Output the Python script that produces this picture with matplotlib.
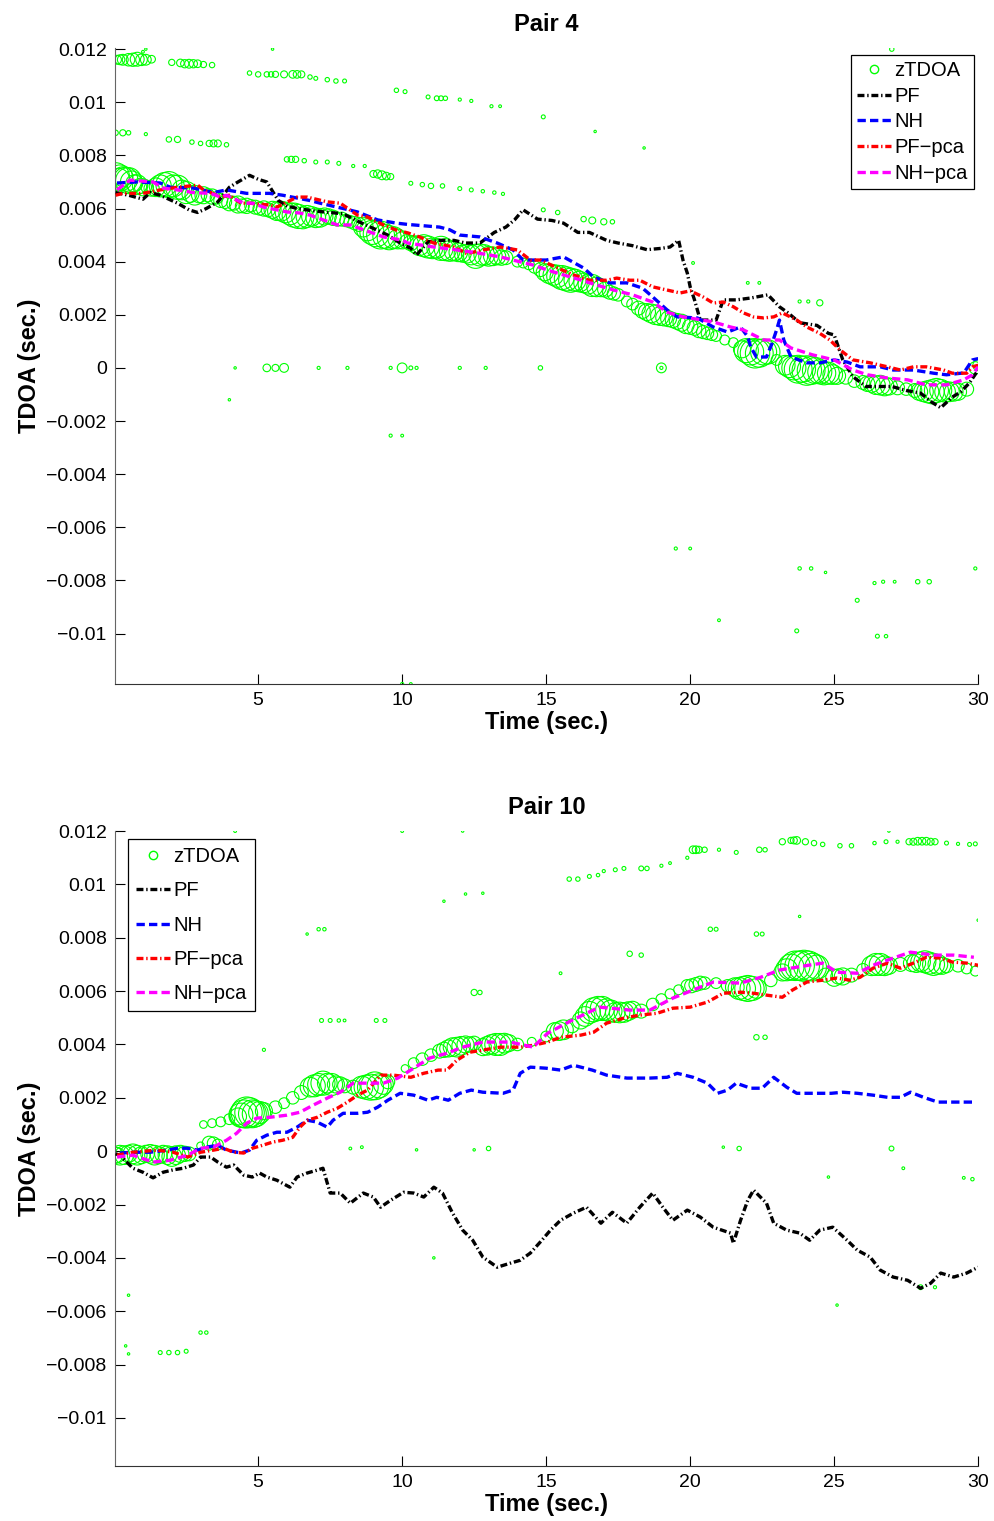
import numpy as np
import matplotlib
matplotlib.use("Agg")
import matplotlib.pyplot as plt
from matplotlib.lines import Line2D

plt.rcParams['font.family'] = ['Liberation Sans', 'DejaVu Sans']
plt.rcParams['lines.scale_dashes'] = False

# all TDOA values in milliseconds (x 1e-3 sec), time in sec

# ---------------- Pair 4 ----------------
p4_pf = [(0.05,6.6),(0.5,6.5),(1.0,6.35),(1.25,6.6),(1.6,6.5),(2.2,6.2),(2.6,5.95),(2.9,5.85),(3.2,6.0),
         (3.6,6.25),(4.0,6.8),(4.3,7.0),(4.7,7.25),(5.0,7.1),(5.3,7.0),(5.7,6.3),(6.0,6.1),(6.35,6.0),
         (7.0,5.9),(7.5,5.85),(7.95,5.8),(8.5,5.5),(8.9,5.3),(9.5,5.0),(9.93,4.7),(10.3,4.5),(10.5,4.25),
         (10.9,4.75),(11.3,4.8),(11.8,4.8),(12.2,4.7),(12.7,4.7),(13.2,5.1),(13.6,5.3),(13.9,5.57),
         (14.2,5.95),(14.7,5.6),(15.2,5.55),(15.6,5.45),(16.1,5.1),(16.5,5.1),(17.1,4.8),(17.5,4.7),
         (18.0,4.6),(18.5,4.45),(19.0,4.5),(19.3,4.55),(19.6,4.8),(19.75,4.06),(19.9,3.57),(20.0,3.05),
         (20.15,2.56),(20.35,1.8),(20.9,1.8),(21.15,2.56),(21.6,2.56),(22.1,2.63),(22.7,2.75),(23.1,2.3),
         (23.4,2.07),(23.8,1.7),(24.4,1.6),(24.8,1.3),(25.0,1.24),(25.3,0.3),(25.65,-0.33),(26.1,-0.7),
         (26.6,-0.7),(27.0,-0.7),(27.5,-0.85),(28.0,-0.95),(28.4,-1.3),(28.7,-1.5),(29.1,-1.1),
         (29.4,-0.9),(29.7,-0.56),(30.0,-0.08)]

p4_nh = [(0.1,6.96),(0.8,7.0),(1.6,6.96),(1.95,6.8),(2.75,6.77),(3.45,6.6),(3.9,6.7),(4.6,6.57),(5.4,6.57),
         (5.85,6.5),(6.8,6.3),(7.15,6.2),(7.95,6.0),(8.45,5.87),(9.15,5.57),(9.8,5.45),(10.2,5.4),(11.3,5.3),
         (11.65,5.2),(12.0,5.0),(12.7,4.93),(13.3,4.7),(13.85,4.44),(14.2,4.06),(15.0,4.06),(15.6,4.18),
         (16.3,3.76),(16.65,3.42),(17.2,3.2),(17.8,3.2),(18.35,3.0),(18.7,2.67),(19.2,2.18),(19.55,1.92),
         (20.25,1.88),(20.8,1.54),(21.3,1.35),(21.75,1.54),(22.0,1.17),(22.1,0.79),(22.3,0.41),(22.65,0.41),
         (22.85,0.94),(23.0,1.43),(23.1,1.8),(23.25,1.05),(23.5,0.41),(24.05,0.19),(24.5,0.19),(25.0,0.3),
         (25.45,0.22),(25.9,0.04),(26.6,0.04),(27.05,-0.08),(27.75,-0.08),(28.45,-0.2),(28.9,-0.26),
         (29.5,-0.19),(29.8,0.3),(30.0,0.35)]

p4_pfpca = [(0.05,6.5),(0.3,6.57),(1.0,6.57),(1.6,6.7),(2.2,6.8),(2.9,6.88),(3.1,6.7),(3.35,6.6),(3.7,6.43),
            (4.0,6.5),(4.4,6.2),(4.7,6.2),(5.4,6.13),(5.65,6.05),(6.35,6.43),(6.7,6.43),(7.4,6.25),(7.85,6.2),
            (8.45,5.75),(8.8,5.68),(9.35,5.38),(9.8,5.19),(10.2,5.08),(10.6,4.93),(11.1,4.7),(11.8,4.55),
            (12.25,4.3),(12.8,4.44),(13.4,4.55),(14.0,4.44),(14.45,4.06),(14.8,4.06),(15.4,3.76),(15.95,3.5),
            (16.5,3.3),(17.1,3.3),(17.45,3.38),(17.9,3.3),(18.25,3.3),(18.7,3.05),(19.2,2.93),(19.65,2.82),
            (20.0,2.9),(20.45,2.67),(20.8,2.44),(21.15,2.48),(21.5,2.3),(21.85,2.07),(22.2,1.92),(22.55,1.88),
            (22.9,1.92),(23.2,2.07),(23.7,1.8),(24.05,1.54),(24.5,1.3),(24.85,1.05),(25.2,0.68),(25.65,0.3),
            (26.25,0.19),(26.85,0.04),(27.3,-0.08),(27.75,0.04),(28.2,0.04),(28.8,-0.08),(29.1,-0.2),
            (29.6,-0.2),(29.8,0.04),(30.0,0.1)]

p4_nhpca = [(0.1,6.7),(0.55,7.07),(1.35,7.0),(1.7,6.77),(2.2,6.7),(2.75,6.6),(3.35,6.57),(3.7,6.43),(3.9,6.5),
            (4.5,6.2),(4.8,6.2),(5.2,6.05),(6.0,5.87),(6.45,5.83),(6.8,5.75),(7.75,5.38),(8.2,5.38),(9.35,4.93),
            (10.0,4.81),(10.2,4.7),(11.1,4.55),(11.9,4.44),(12.6,4.33),(13.4,4.18),(14.55,3.87),(15.05,3.68),
            (15.6,3.5),(16.2,3.31),(16.75,3.12),(17.35,2.93),(18.0,2.75),(18.7,2.48),(19.2,2.1),(19.75,1.92),
            (20.8,1.73),(21.4,1.54),(21.85,1.43),(22.55,1.05),(23.1,1.05),(23.5,0.75),(24.25,0.49),(25.0,0.3),
            (25.65,-0.08),(26.15,-0.26),(26.85,-0.38),(27.55,-0.45),(28.2,-0.64),(28.9,-0.64),(29.5,-0.45),
            (29.8,-0.26),(30.0,0.04)]

# zTDOA candidates: (time, tdoa, marker size)
p4_ztdoa = [
    # main track
    (0.05,7.2,400),(0.2,7.15,350),(0.4,7.1,300),(0.6,7.0,250),(0.8,6.9,200),(1.0,6.8,150),(1.3,6.75,120),
    (1.6,6.85,250),(1.9,6.9,350),(2.2,6.8,300),(2.5,6.6,250),(2.8,6.5,200),(3.1,6.5,150),(3.4,6.45,120),
    (3.7,6.3,100),(4.0,6.2,120),(4.3,6.15,150),(4.6,6.1,120),(4.9,6.05,100),(5.2,6.0,120),(5.5,5.95,150),
    (5.8,5.9,200),(6.1,5.8,250),(6.4,5.7,300),(6.7,5.7,250),(7.0,5.65,200),(7.3,5.7,150),(7.6,5.65,120),
    (7.9,5.6,100),(8.2,5.5,80),(8.5,5.4,100),(8.8,5.2,250),(9.1,5.05,350),(9.4,4.95,300),(9.7,4.9,250),
    (10.0,4.8,150),(10.3,4.7,120),(10.6,4.6,200),(10.9,4.55,250),(11.2,4.5,200),(11.5,4.45,250),
    (11.8,4.4,200),(12.1,4.3,150),(12.4,4.25,200),(12.7,4.25,250),(13.0,4.2,200),(13.3,4.2,150),
    (13.6,4.15,100),(14.0,4.0,60),(14.4,3.9,60),(14.8,3.7,100),(15.1,3.55,200),(15.4,3.45,250),
    (15.7,3.35,300),(16.0,3.3,250),(16.3,3.2,200),(16.6,3.1,250),(16.9,3.0,150),(17.2,2.85,100),
    (17.5,2.75,80),(17.8,2.5,60),(18.2,2.25,100),(18.5,2.1,150),(18.8,2.0,200),(19.1,1.9,150),
    (19.4,1.8,120),(19.7,1.7,150),(20.0,1.55,120),(20.3,1.4,100),(20.6,1.3,80),(20.9,1.2,60),
    (21.2,1.05,50),(21.5,0.95,50),(21.8,0.7,150),(22.1,0.6,350),(22.4,0.55,400),(22.7,0.6,300),
    (23.0,0.3,60),(23.3,0.1,200),(23.6,0.0,300),(23.9,-0.05,350),(24.2,-0.1,400),(24.5,-0.15,300),
    (24.8,-0.2,250),(25.1,-0.3,150),(25.4,-0.35,100),(25.7,-0.5,80),(26.0,-0.55,100),(26.3,-0.6,150),
    (26.6,-0.65,200),(26.9,-0.7,150),(27.2,-0.75,100),(27.5,-0.8,80),(27.8,-0.85,100),(28.1,-0.9,200),
    (28.4,-0.9,300),(28.7,-0.85,250),(29.0,-0.9,200),(29.3,-0.9,150),(29.6,-0.8,100),(29.9,0.0,80),
    (30.0,0.1,60),
    # main track, overlapping rings
    (0.15,7.1,250),(0.3,7.2,200),(0.5,7.05,350),(0.7,6.95,150),(0.9,6.85,120),(1.15,6.8,80),(1.45,6.8,180),
    (1.75,6.9,300),(2.05,6.85,250),(2.35,6.7,200),(2.65,6.55,150),(2.95,6.5,120),(3.25,6.5,90),(3.55,6.4,80),
    (3.85,6.25,90),(4.15,6.2,100),(4.45,6.1,100),(4.75,6.1,80),(5.05,6.0,90),(5.35,5.95,100),(5.65,5.9,180),
    (5.95,5.85,220),(6.25,5.75,300),(6.55,5.65,250),(6.85,5.7,200),(7.15,5.65,180),(7.45,5.7,120),
    (7.75,5.6,100),(8.05,5.55,80),(8.35,5.45,90),(8.65,5.3,200),(8.95,5.1,300),(9.25,5.0,400),(9.55,4.9,300),
    (9.85,4.85,200),(10.15,4.75,100),(10.45,4.65,150),(10.75,4.6,250),(11.05,4.5,220),(11.35,4.5,300),
    (11.65,4.4,220),(11.95,4.35,180),(12.25,4.3,180),(12.55,4.2,300),(12.85,4.25,220),(13.15,4.2,180),
    (13.45,4.15,120),(14.2,3.95,50),(14.6,3.8,80),(14.95,3.6,150),(15.25,3.5,220),(15.55,3.4,300),
    (15.85,3.3,300),(16.15,3.25,220),(16.45,3.15,200),(16.75,3.05,200),(17.05,2.95,120),(17.35,2.8,90),
    (18.0,2.4,70),(18.35,2.15,120),(18.65,2.05,180),(18.95,1.95,180),(19.25,1.85,130),(19.55,1.75,130),
    (19.85,1.6,140),(20.15,1.5,110),(20.45,1.35,90),(20.75,1.25,70),(21.95,0.65,300),(22.25,0.55,450),
    (22.55,0.6,350),(23.45,0.05,250),(23.75,-0.05,400),(24.05,-0.1,450),(24.35,-0.1,350),(24.65,-0.2,280),
    (24.95,-0.25,200),(26.15,-0.6,120),(26.45,-0.65,180),(26.75,-0.7,180),(27.95,-0.9,150),(28.25,-0.9,250),
    (28.55,-0.85,300),(28.85,-0.9,220),(29.15,-0.9,180),
    # upper branch ~0.0116
    (0.1,11.6,40),(0.3,11.6,60),(0.5,11.6,80),(0.8,11.62,100),(1.1,11.6,60),(1.3,11.62,30),(2.0,11.5,20),
    (2.3,11.48,30),(2.6,11.45,40),(2.9,11.45,30),(3.1,11.42,20),(3.4,11.4,15),(4.7,11.1,10),(5.0,11.05,15),
    (5.3,11.05,15),(5.6,11.05,20),(6.2,11.05,30),(6.5,11.05,25),(6.8,10.95,10),(7.0,10.9,8),(7.4,10.85,10),
    (7.7,10.8,10),(8.0,10.8,8),(9.8,10.45,10),(10.1,10.4,8),(10.9,10.2,8),(11.2,10.15,12),(11.5,10.15,10),
    (12.0,10.1,5),(12.4,10.05,5),(13.1,9.85,5),(13.4,9.85,4),(14.9,9.45,8),
    (0.2,11.6,50),(0.65,11.6,90),(0.95,11.6,70),(2.45,11.45,35),(2.75,11.45,35),(5.45,11.05,15),
    (5.9,11.05,25),(6.35,11.05,30),(11.35,10.15,12),
    (1.0,11.9,4),(5.5,12.0,3),(1.1,12.0,3),(16.7,8.9,3),(18.4,8.28,3),(27.0,12.0,10),
    # upper branch ~0.0088
    (0.05,8.85,15),(0.3,8.85,20),(0.5,8.85,10),(1.1,8.8,5),(1.9,8.6,15),(2.2,8.6,20),(2.7,8.5,10),
    (3.0,8.45,10),(3.3,8.45,20),(3.6,8.45,25),(3.9,8.4,10),(6.0,7.85,15),(6.3,7.85,20),(6.6,7.8,10),
    (7.0,7.75,8),(7.4,7.75,8),(7.8,7.7,8),(8.3,7.6,5),(8.7,7.6,5),(9.0,7.3,25),(9.3,7.25,40),(9.6,7.2,20),
    (10.3,6.95,8),(10.7,6.9,10),(11.0,6.85,15),(11.4,6.85,10),(12.0,6.75,8),(12.4,6.7,8),(12.8,6.65,6),
    (13.2,6.6,6),(13.5,6.55,5),(3.45,8.45,25),(6.15,7.85,20),(9.15,7.3,35),(9.45,7.22,30),
    # scattered
    (14.9,5.95,8),(15.4,5.85,10),(16.3,5.6,15),(16.6,5.55,25),(17.0,5.5,20),(17.3,5.5,10),(20.1,3.95,4),
    (22.0,3.2,4),(22.4,3.2,4),(23.8,2.5,5),(24.1,2.5,5),(24.5,2.45,20),
    (4.2,0.0,3),(5.3,0.0,30),(5.6,0.0,25),(5.9,0.0,40),(7.1,0.0,5),(8.1,0.0,5),(9.6,0.0,5),(10.0,0.0,50),
    (10.3,0.0,8),(10.5,0.0,5),(12.0,0.0,5),(12.9,0.0,5),(14.8,0.0,10),(19.0,0.0,50),(19.0,0.0,5),
    (4.0,-1.2,3),(9.6,-2.55,5),(10.0,-2.55,4),
    (19.5,-6.8,5),(20.0,-6.8,4),(21.0,-9.5,4),(23.8,-7.55,6),(24.2,-7.55,6),(24.7,-7.7,3),(25.8,-8.75,8),
    (26.4,-8.1,5),(26.7,-8.05,5),(27.1,-8.05,4),(27.9,-8.05,10),(28.3,-8.05,10),(23.7,-9.9,8),
    (26.5,-10.1,8),(26.8,-10.1,6),(29.9,-7.55,5),(10.0,-11.9,5),(10.3,-11.9,4)]

# ---------------- Pair 10 ----------------
p10_pf = [(0.05,-0.1),(0.2,-0.15),(0.65,-0.64),(1.0,-0.79),(1.35,-1.0),(1.7,-0.79),(2.05,-0.7),(2.4,-0.64),
          (2.75,-0.52),(3.0,-0.22),(3.35,-0.22),(3.6,-0.41),(3.9,-0.6),(4.15,-0.52),(4.5,-0.9),(4.8,-0.97),
          (5.05,-0.82),(5.3,-0.97),(5.65,-1.09),(6.1,-1.35),(6.35,-0.97),(6.7,-0.82),(7.05,-0.71),(7.25,-0.64),
          (7.5,-1.57),(7.85,-1.57),(8.2,-1.95),(8.65,-1.57),(9.0,-1.72),(9.25,-2.1),(9.6,-1.84),(10.05,-1.54),
          (10.4,-1.57),(10.75,-1.72),(11.1,-1.35),(11.4,-1.57),(11.75,-2.32),(12.1,-2.96),(12.45,-3.34),
          (12.8,-3.97),(13.3,-4.35),(13.75,-4.2),(14.1,-4.09),(14.45,-3.82),(14.8,-3.4),(15.15,-2.96),
          (15.5,-2.59),(15.95,-2.32),(16.4,-2.1),(16.9,-2.7),(17.3,-2.29),(17.8,-2.7),(18.25,-2.1),
          (18.7,-1.57),(19.05,-2.1),(19.4,-2.59),(19.9,-2.21),(20.35,-2.47),(20.8,-2.85),(21.4,-3.07),
          (21.5,-3.45),(21.75,-2.59),(22.0,-1.84),(22.2,-1.46),(22.65,-1.95),(22.9,-2.7),(23.35,-2.96),
          (23.8,-3.07),(24.15,-3.34),(24.5,-2.96),(24.95,-2.85),(25.45,-3.34),(25.8,-3.71),(26.25,-3.97),
          (26.6,-4.46),(27.05,-4.72),(27.55,-4.84),(28.0,-5.14),(28.35,-4.95),(28.7,-4.57),(29.15,-4.72),
          (29.6,-4.57),(30.0,-4.35)]

p10_nh = [(0.2,-0.07),(0.65,-0.04),(1.25,-0.04),(1.85,0.04),(2.2,0.11),(2.55,0.11),(2.9,0.04),(3.2,0.15),
          (3.6,0.22),(3.9,0.04),(4.4,-0.07),(4.7,0.04),(4.95,0.41),(5.3,0.6),(5.65,0.71),(6.0,0.71),(6.35,0.9),
          (6.7,1.16),(7.05,1.09),(7.4,0.9),(7.6,1.16),(7.95,1.42),(8.45,1.42),(8.8,1.46),(9.15,1.65),(9.5,1.91),
          (9.93,2.17),(10.4,2.1),(10.9,1.91),(11.2,2.02),(11.6,1.91),(12.0,2.17),(12.4,2.29),(12.8,2.21),
          (13.5,2.17),(13.85,2.29),(14.1,2.92),(14.45,3.15),(15.0,3.11),(15.5,3.04),(15.95,3.22),(16.6,3.04),
          (17.1,2.85),(17.8,2.74),(18.6,2.74),(19.2,2.77),(19.55,2.92),(20.1,2.77),(20.6,2.55),(20.95,2.17),
          (21.3,2.29),(21.6,2.55),(22.1,2.36),(22.5,2.36),(22.9,2.77),(23.35,2.4),(23.7,2.17),(24.3,2.17),
          (24.9,2.17),(25.3,2.21),(25.8,2.17),(26.35,2.1),(26.85,2.02),(27.3,2.02),(27.65,2.21),(28.1,2.02),
          (28.6,1.84),(29.0,1.84),(29.5,1.84),(29.85,1.84)]

p10_pfpca = [(0.1,-0.15),(0.65,-0.04),(1.5,0.04),(2.05,-0.04),(2.55,-0.22),(3.0,-0.04),(3.45,0.04),(3.8,0.11),
             (4.15,-0.04),(4.5,-0.07),(4.8,0.11),(5.15,0.22),(5.5,0.34),(5.85,0.41),(6.2,0.52),(6.45,0.9),
             (6.7,1.16),(7.05,1.27),(7.4,1.46),(7.75,1.61),(8.1,1.84),(8.45,2.1),(8.8,2.29),(9.25,2.85),
             (9.7,2.85),(10.3,2.77),(10.75,2.92),(11.25,3.04),(11.55,3.04),(11.9,3.41),(12.35,3.71),(12.8,3.79),
             (13.4,3.9),(14.1,3.9),(14.55,3.97),(15.05,4.09),(15.5,4.27),(16.2,4.35),(16.65,4.46),(17.1,4.8),
             (17.7,4.99),(18.25,5.1),(18.85,5.17),(19.4,5.36),(20.0,5.4),(20.6,5.59),(21.15,5.92),(21.75,5.96),
             (22.2,5.92),(22.65,5.85),(23.2,5.77),(23.55,6.04),(24.05,6.34),(24.6,6.41),(25.1,6.49),
             (25.55,6.41),(25.9,6.52),(26.35,6.86),(26.85,7.05),(27.3,6.86),(27.75,7.05),(28.2,7.27),
             (28.7,7.24),(29.1,7.09),(29.6,7.05),(30.0,6.97)]

p10_nhpca = [(0.1,-0.22),(0.65,-0.15),(1.35,-0.41),(1.95,-0.34),(2.55,-0.15),(3.0,0.11),(3.45,0.15),(3.9,0.41),
             (4.25,0.67),(4.6,1.05),(4.95,1.24),(5.4,1.27),(6.0,1.35),(6.45,1.46),(6.9,1.72),(7.4,1.99),
             (7.85,2.21),(8.3,2.55),(9.0,2.55),(9.35,2.55),(9.85,2.74),(10.4,3.11),(10.95,3.49),(11.55,3.67),
             (12.1,3.9),(12.8,4.09),(13.75,4.09),(14.55,3.9),(15.05,4.42),(15.9,4.91),(16.85,5.4),(17.9,5.29),
             (18.6,5.29),(19.4,5.74),(20.1,6.04),(20.8,6.34),(21.75,6.3),(22.45,6.52),(23.1,6.79),(24.1,6.97),
             (24.6,7.05),(25.1,6.71),(25.8,6.67),(26.35,6.97),(27.05,7.24),(27.65,7.46),(28.45,7.35),
             (29.15,7.35),(29.85,7.27)]

p10_ztdoa = [
    # main track
    (0.0,-0.15,150),(0.2,-0.15,200),(0.5,-0.1,150),(0.8,-0.15,200),(1.1,-0.1,150),(1.4,-0.15,200),
    (1.7,-0.1,150),(2.0,-0.2,200),(2.3,-0.1,150),(2.6,-0.1,100),(3.0,0.2,30),(3.3,0.3,100),(3.6,0.25,60),
    (3.1,1.0,30),(3.4,1.05,40),(3.7,1.1,50),(4.0,1.2,60),(4.3,1.3,150),(4.5,1.4,400),(4.7,1.45,450),
    (4.9,1.4,350),(5.2,1.5,150),(5.6,1.65,80),(5.9,1.8,60),(6.2,2.0,80),(6.5,2.2,100),(6.8,2.4,200),
    (7.1,2.5,250),(7.4,2.55,200),(7.7,2.5,150),(8.0,2.45,100),(8.3,2.4,100),(8.6,2.4,250),(8.9,2.4,350),
    (9.2,2.45,300),(9.5,2.6,100),(10.1,3.1,30),(10.4,3.3,60),(10.7,3.45,80),(11.0,3.6,80),(11.3,3.75,100),
    (11.6,3.85,150),(11.9,3.9,200),(12.2,4.0,150),(12.5,4.05,100),(12.8,3.9,150),(13.1,4.0,200),
    (13.4,4.0,250),(13.7,4.05,150),(14.0,4.0,80),(14.5,4.1,40),(15.0,4.3,60),(15.3,4.5,150),(15.6,4.55,200),
    (15.9,4.7,100),(16.2,4.9,150),(16.5,5.2,250),(16.8,5.35,300),(17.1,5.3,250),(17.4,5.2,200),
    (17.7,5.2,200),(18.0,5.3,150),(18.3,5.25,100),(18.7,5.5,80),(19.0,5.7,60),(19.3,5.9,50),(19.6,6.05,50),
    (19.9,6.2,80),(20.2,6.25,100),(20.5,6.3,80),(20.9,6.3,60),(21.3,6.2,80),(21.7,6.1,250),(22.0,6.1,350),
    (22.3,6.1,200),(22.8,6.4,80),(23.2,6.7,150),(23.5,6.9,350),(23.8,6.95,450),(24.1,6.95,450),
    (24.4,6.9,300),(24.7,6.6,100),(25.0,6.5,150),(25.3,6.55,150),(25.6,6.6,100),(26.0,6.8,80),
    (26.3,6.95,200),(26.6,7.0,250),(26.9,6.95,150),(27.3,7.0,100),(27.7,7.05,150),(28.0,7.1,200),
    (28.3,7.05,250),(28.6,7.0,200),(28.9,6.95,100),(29.3,6.95,80),(29.6,6.85,60),(29.9,6.75,50),
    # main track, overlapping rings
    (0.1,-0.15,120),(0.35,-0.15,180),(0.65,-0.1,200),(0.95,-0.15,150),(1.25,-0.1,180),(1.55,-0.15,150),
    (1.85,-0.15,180),(2.15,-0.15,180),(2.45,-0.1,120),(3.45,0.3,80),(4.4,1.35,300),(4.6,1.45,500),
    (4.8,1.4,400),(5.05,1.45,250),(6.95,2.45,250),(7.25,2.55,300),(7.55,2.5,250),(7.85,2.5,120),
    (8.75,2.4,300),(9.05,2.45,400),(9.35,2.5,200),(11.45,3.8,120),(11.75,3.9,180),(12.05,3.95,180),
    (12.35,4.0,120),(12.95,3.95,180),(13.25,4.0,250),(13.55,4.05,200),(15.45,4.5,180),(16.35,5.05,200),
    (16.65,5.3,300),(16.95,5.35,300),(17.25,5.25,250),(17.55,5.2,220),(17.85,5.25,180),(20.05,6.2,100),
    (20.35,6.3,100),(21.55,6.15,180),(21.85,6.1,300),(22.15,6.1,300),(23.35,6.8,250),(23.65,6.95,450),
    (23.95,6.95,500),(24.25,6.9,400),(25.15,6.55,120),(26.45,7.0,250),(26.75,6.95,200),(27.85,7.05,180),
    (28.15,7.1,250),(28.45,7.0,250),(28.75,6.95,150),
    # upper branch ~0.011
    (15.8,10.2,10),(16.1,10.2,10),(16.5,10.3,8),(16.8,10.35,6),(17.0,10.5,5),(17.4,10.55,8),(17.7,10.6,8),
    (18.3,10.6,12),(18.5,10.6,10),(19.0,10.7,5),(19.3,10.8,4),(19.9,11.0,5),(20.1,11.3,30),(20.3,11.3,25),
    (20.5,11.3,15),(21.0,11.3,5),(21.6,11.2,8),(22.4,11.3,15),(22.6,11.3,10),(23.2,11.6,20),(23.5,11.65,20),
    (23.7,11.65,30),(24.0,11.6,20),(24.3,11.55,15),(24.6,11.5,10),(25.2,11.45,10),(25.6,11.45,10),
    (26.4,11.55,6),(26.8,11.6,8),(27.2,11.6,5),(27.6,11.6,20),(27.9,11.62,30),(28.2,11.62,30),
    (28.5,11.6,20),(28.9,11.55,8),(29.3,11.52,5),(29.7,11.5,8),(29.9,11.52,8),
    (20.2,11.3,30),(23.6,11.65,25),(27.75,11.6,25),(28.05,11.62,30),(28.35,11.6,25),
    # scattered
    (4.2,12.0,4),(10.0,12.0,4),(12.1,12.0,3),(26.9,12.0,3),(11.45,9.37,3),(12.2,9.64,3),(12.8,9.67,3),
    (23.8,8.8,3),(30.0,8.66,3),(6.7,8.14,3),(7.1,8.32,6),(7.3,8.32,6),(20.7,8.32,10),(20.9,8.32,8),
    (22.3,8.14,10),(22.5,8.14,8),(17.9,7.4,15),(18.3,7.35,10),(15.5,6.67,4),(7.2,4.9,8),(7.5,4.9,8),
    (7.8,4.9,6),(8.0,4.9,4),(9.1,4.9,8),(9.4,4.9,8),(5.2,3.8,5),(12.5,5.95,20),(12.7,5.95,10),
    (22.3,4.27,15),(22.6,4.27,10),
    (8.2,0.1,4),(8.6,0.15,4),(10.5,0.05,3),(12.5,0.05,3),(13.0,0.1,10),(21.15,0.15,3),(21.7,0.1,10),
    (26.99,0.1,12),(24.8,-0.97,3),(27.4,-0.64,4),(29.5,-1.0,4),(29.8,-1.05,6),(11.1,-4.0,3),(28.0,-5.1,12),
    (28.5,-5.1,5),(0.5,-5.4,3),(25.1,-5.77,3),(3.0,-6.8,6),(3.2,-6.8,6),(0.4,-7.3,3),(0.5,-7.6,3),
    (1.6,-7.55,8),(1.9,-7.55,10),(2.2,-7.55,10),(2.5,-7.5,8),(1.5,-11.9,3),(6.0,-11.9,8),(10.4,-11.9,3)]

series_names = ['PF', 'NH', 'PF\u2212pca', 'NH\u2212pca']
series_colors = ['#000000', '#0000ff', '#ff0000', '#ff00ff']
series_dashes = [(5, 2, 1, 2), (6, 3), (5, 2, 1, 2), (6, 3)]

ytick_vals = [-10, -8, -6, -4, -2, 0, 2, 4, 6, 8, 10, 12]
ytick_labels = ['\u22120.01', '\u22120.008', '\u22120.006', '\u22120.004', '\u22120.002', '0',
                '0.002', '0.004', '0.006', '0.008', '0.01', '0.012']


def draw_pair(ax, title, ztdoa, curves, ylim, leg_loc, leg_anchor, leg_spacing, leg_pad):
    zt, zv, zs = np.array(ztdoa).T
    ax.scatter(zt, zv * 1e-3, s=zs, facecolors='none', edgecolors=(0, 1, 0), linewidths=0.8, zorder=2)
    handles = [Line2D([], [], ls='none', marker='o', ms=6, mfc='none', mec=(0, 1, 0), mew=1.0)]
    for pts, name, c, d in zip(curves, series_names, series_colors, series_dashes):
        t, v = np.array(pts).T
        ln, = ax.plot(t, v * 1e-3, color=c, lw=2.4, dashes=d, zorder=3)
        handles.append(ln)
    ax.set_xlim(0.03, 30)
    ax.set_ylim(ylim[0] * 1e-3, ylim[1] * 1e-3)
    ax.set_xticks([5, 10, 15, 20, 25, 30])
    ax.set_yticks(np.array(ytick_vals) * 1e-3)
    ax.set_yticklabels(ytick_labels)
    ax.tick_params(direction='in', length=7, width=0.8, labelsize=14, pad=6, top=False, right=False)
    for s in ['top', 'right']:
        ax.spines[s].set_visible(False)
    ax.spines['left'].set_color('#666666')
    ax.spines['bottom'].set_color('#333333')
    ax.set_xlabel('Time (sec.)', fontsize=17, fontweight='bold', labelpad=1)
    ax.set_ylabel('TDOA (sec.)', fontsize=17, fontweight='bold', labelpad=4)
    ax.set_title(title, fontsize=17, fontweight='bold', pad=12)
    leg = ax.legend(handles, ['zTDOA'] + series_names, loc=leg_loc, bbox_to_anchor=leg_anchor,
                    fontsize=14.5, fancybox=False, edgecolor='k', framealpha=1, borderaxespad=0,
                    handlelength=1.7, handletextpad=0.15, labelspacing=leg_spacing, borderpad=leg_pad)
    leg.get_frame().set_linewidth(0.9)


fig = plt.figure(figsize=(9.95, 15.21), dpi=100)
ax1 = fig.add_axes([0.1156, 0.5503, 0.8675, 0.4181])
ax2 = fig.add_axes([0.1156, 0.0362, 0.8675, 0.4174])

draw_pair(ax1, 'Pair 4', p4_ztdoa, [p4_pf, p4_nh, p4_pfpca, p4_nhpca], (-11.9, 12.04),
          'upper right', (0.995, 0.989), 0.33, 0.3)
draw_pair(ax2, 'Pair 10', p10_ztdoa, [p10_pf, p10_nh, p10_pfpca, p10_nhpca], (-11.8, 12.0),
          'upper left', (0.015, 0.987), 0.75, 0.4)

fig.savefig('out.png', dpi=100)
